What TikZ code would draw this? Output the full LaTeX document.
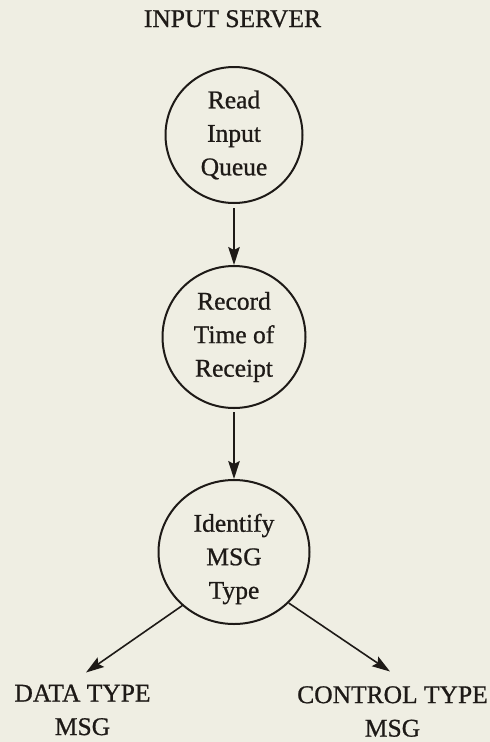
\documentclass[tikz,border=0pt]{standalone}
\usepackage{fontspec}
\setmainfont[FakeBold=0.8]{Liberation Serif}
\usetikzlibrary{shapes.geometric,arrows.meta}
\definecolor{paper}{HTML}{EFEEE3}
\definecolor{ink}{HTML}{1E1A17}
\begin{document}
\begin{tikzpicture}[x=1pt,y=-1pt,
  every node/.style={text=ink, font=\fontsize{25.5}{33.5}\selectfont},
  proc/.style={ellipse, draw=ink, line width=2pt, inner sep=0pt},
  words/.style={align=center, inner sep=0pt},
  arr/.style={draw=ink, line width=1.6pt, -{Stealth[length=18pt,width=11.5pt,inset=3pt]}}]
% page and background
\fill[paper] (0,0) rectangle (490,742);
\useasboundingbox (0,0) rectangle (490,742);

% heading
\node[words, anchor=base] (title) at (232.5,27) {INPUT SERVER};

% process bubbles
\node[proc, minimum width=137pt, minimum height=136pt] (c1) at (234,135) {};
\node[words] (t1) at (c1.center) {Read\\Input\\Queue};

\node[proc, minimum width=143pt, minimum height=142pt] (c2) at (234,337) {};
\node[words] (t2) at (c2.center) {Record\\Time of\\Receipt};

\node[proc, minimum width=151pt, minimum height=144pt] (c3) at (234,552) {};
\node[words] (t3) at ([yshift=-7pt]c3.center) {Identify\\MSG\\Type};

% outcomes
\node[words, anchor=north] (dtype) at (82.5,684.5) {DATA TYPE\\MSG};
\node[words, anchor=north] (ctype) at (392.5,686) {CONTROL TYPE\\MSG};

% flow
\draw[arr, shorten <=4pt] (c1) -- (c2);
\draw[arr, shorten <=3pt] (c2) -- (c3);
\draw[arr] (c3.226) -- ([shift={(3.5,-12)}]dtype.north);
\draw[arr] (c3.317) -- ([shift={(-2.5,-14.5)}]ctype.north);
\end{tikzpicture}
\end{document}
